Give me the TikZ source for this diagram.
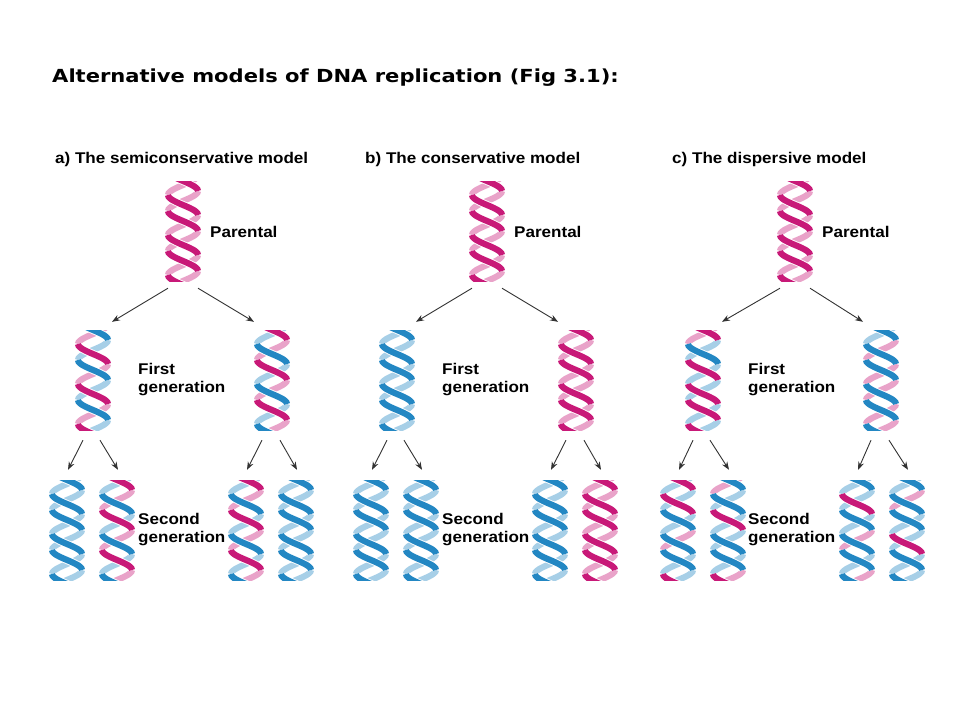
\documentclass[tikz,border=0pt]{standalone}
\usepackage{fontspec}
\setmainfont{Liberation Sans}[FakeStretch=1.1]
\newfontfamily\titlefont{DejaVu Sans}[FakeStretch=1.17]
\usetikzlibrary{arrows.meta,positioning}

\definecolor{dnaM}{RGB}{200,25,120}
\definecolor{dnaB}{RGB}{35,135,195}
\definecolor{arrgray}{RGB}{50,50,50}

% one double helix: name, x, top, height, colours of strand A, colours of strand B
\newcommand{\dnahelix}[6]{%
  \node[helixbox, minimum height=#4] (#1) at (#2,#3+#4/2) {};
  \begin{scope}[shift={(#2,#3)}]
    \clip (-19,0) rectangle (19,#4);
    % back halves
    \foreach \col [count=\k from 0] in {#5} {\ifodd\k\relax
      \draw[strand,draw=\col!40] plot[domain=0:20,samples=13,smooth] ({15*cos(9*\x)},{-10+20*\k+\x});\fi}
    \foreach \col [count=\k from 0] in {#6} {\ifodd\k\relax
      \draw[strand,draw=\col!40] plot[domain=0:20,samples=13,smooth] ({15*cos(9*\x)},{-26+20*\k+\x});\fi}
    % front halves
    \foreach \col [count=\k from 0] in {#5} {\ifodd\k\relax\else
      \draw[strand,draw=white,line width=8] plot[domain=0:20,samples=13,smooth] ({-15*cos(9*\x)},{-10+20*\k+\x});
      \draw[strand,draw=\col] plot[domain=0:20,samples=13,smooth] ({-15*cos(9*\x)},{-10+20*\k+\x});\fi}
    \foreach \col [count=\k from 0] in {#6} {\ifodd\k\relax\else
      \draw[strand,draw=white,line width=8] plot[domain=0:20,samples=13,smooth] ({-15*cos(9*\x)},{-26+20*\k+\x});
      \draw[strand,draw=\col] plot[domain=0:20,samples=13,smooth] ({-15*cos(9*\x)},{-26+20*\k+\x});\fi}
  \end{scope}
}
\newcommand{\dnapure}[5]{\dnahelix{#1}{#2}{#3}{100}{#4,#4,#4,#4,#4,#4,#4}{#5,#5,#5,#5,#5,#5,#5}}

\begin{document}
\begin{tikzpicture}[x=1pt,y=-1pt]
  \tikzset{helixbox/.style={rectangle,minimum width=36pt,inner sep=0pt},
    strand/.style={line width=6.2pt,line cap=butt},
    arr/.style={-{Stealth[length=8pt,width=6pt]},draw=arrgray,line width=0.9pt},
    model/.style={anchor=base west,inner sep=0pt,font=\fontsize{15.5}{17.5}\selectfont\bfseries},
    tag/.style={anchor=west,inner sep=0pt,align=left,font=\fontsize{15.5}{17.5}\selectfont\bfseries}}
  \useasboundingbox (0,0) rectangle (960,720);

  \node[anchor=base west,inner sep=0pt,font=\titlefont\fontsize{18}{20}\selectfont\bfseries] (title) at (52,82)
    {Alternative models of DNA replication (Fig 3.1):};

  % a) semiconservative
  \node[model] (amodel) at (55,163.5) {a) The semiconservative model};
  \dnapure{aP}{183}{181}{dnaM}{dnaM}
  \dnapure{aF1}{93}{330}{dnaB}{dnaM}
  \dnapure{aF2}{272}{330}{dnaM}{dnaB}
  \dnapure{aS1}{67}{480}{dnaB}{dnaB}
  \dnapure{aS2}{117}{480}{dnaM}{dnaB}
  \dnapure{aS3}{246}{480}{dnaM}{dnaB}
  \dnapure{aS4}{296}{480}{dnaB}{dnaB}
  \node[tag] (aPtag) at (210,232) {Parental};
  \node[tag] (aFtag) at (138,379.5) {First\\generation};
  \node[tag] (aStag) at (138,529.5) {Second\\generation};

  % b) conservative
  \node[model] (bmodel) at (365,163.5) {b) The conservative model};
  \dnapure{bP}{487}{181}{dnaM}{dnaM}
  \dnapure{bF1}{397}{330}{dnaB}{dnaB}
  \dnapure{bF2}{576}{330}{dnaM}{dnaM}
  \dnapure{bS1}{371}{480}{dnaB}{dnaB}
  \dnapure{bS2}{421}{480}{dnaB}{dnaB}
  \dnapure{bS3}{550}{480}{dnaB}{dnaB}
  \dnapure{bS4}{600}{480}{dnaM}{dnaM}
  \node[tag] (bPtag) at (514,232) {Parental};
  \node[tag] (bFtag) at (442,379.5) {First\\generation};
  \node[tag] (bStag) at (442,529.5) {Second\\generation};

  % c) dispersive
  \node[model] (cmodel) at (672,163.5) {c) The dispersive model};
  \dnapure{cP}{795}{181}{dnaM}{dnaM}
  \dnahelix{cF1}{703}{330}{100}{dnaM,dnaB,dnaM,dnaB,dnaM,dnaB,dnaM}{dnaB,dnaM,dnaB,dnaB,dnaM,dnaB,dnaM}
  \dnahelix{cF2}{881}{330}{100}{dnaB,dnaM,dnaB,dnaM,dnaB,dnaM,dnaB}{dnaM,dnaB,dnaB,dnaM,dnaB,dnaM,dnaB}
  \dnahelix{cS1}{678}{480}{100}{dnaM,dnaB,dnaB,dnaM,dnaB,dnaB,dnaB}{dnaB,dnaB,dnaM,dnaB,dnaB,dnaB,dnaM}
  \dnahelix{cS2}{728}{480}{100}{dnaB,dnaB,dnaM,dnaB,dnaB,dnaM,dnaB}{dnaB,dnaM,dnaB,dnaB,dnaB,dnaB,dnaM}
  \dnahelix{cS3}{857}{480}{100}{dnaB,dnaB,dnaB,dnaM,dnaB,dnaM,dnaB}{dnaB,dnaB,dnaM,dnaB,dnaB,dnaB,dnaB}
  \dnahelix{cS4}{907}{480}{100}{dnaB,dnaM,dnaB,dnaB,dnaB,dnaB,dnaB}{dnaB,dnaB,dnaB,dnaB,dnaM,dnaB,dnaB}
  \node[tag] (cPtag) at (822,232) {Parental};
  \node[tag] (cFtag) at (748,379.5) {First\\generation};
  \node[tag] (cStag) at (748,529.5) {Second\\generation};

  % arrows
  \foreach \m in {a,b,c} {
    \draw[arr] ([xshift=-15pt,yshift=-7pt]\m P.south) -- ([xshift=19pt,yshift=8pt]\m F1.north);
    \draw[arr] ([xshift=15pt,yshift=-7pt]\m P.south) -- ([xshift=-18pt,yshift=8pt]\m F2.north);
    \draw[arr] ([xshift=-10pt,yshift=-10pt]\m F1.south) -- ([xshift=1pt,yshift=10pt]\m S1.north);
    \draw[arr] ([xshift=7pt,yshift=-10pt]\m F1.south) -- ([xshift=1pt,yshift=10pt]\m S2.north);
    \draw[arr] ([xshift=-10pt,yshift=-10pt]\m F2.south) -- ([xshift=1pt,yshift=10pt]\m S3.north);
    \draw[arr] ([xshift=8pt,yshift=-10pt]\m F2.south) -- ([xshift=1pt,yshift=10pt]\m S4.north);
  }
\end{tikzpicture}
\end{document}
